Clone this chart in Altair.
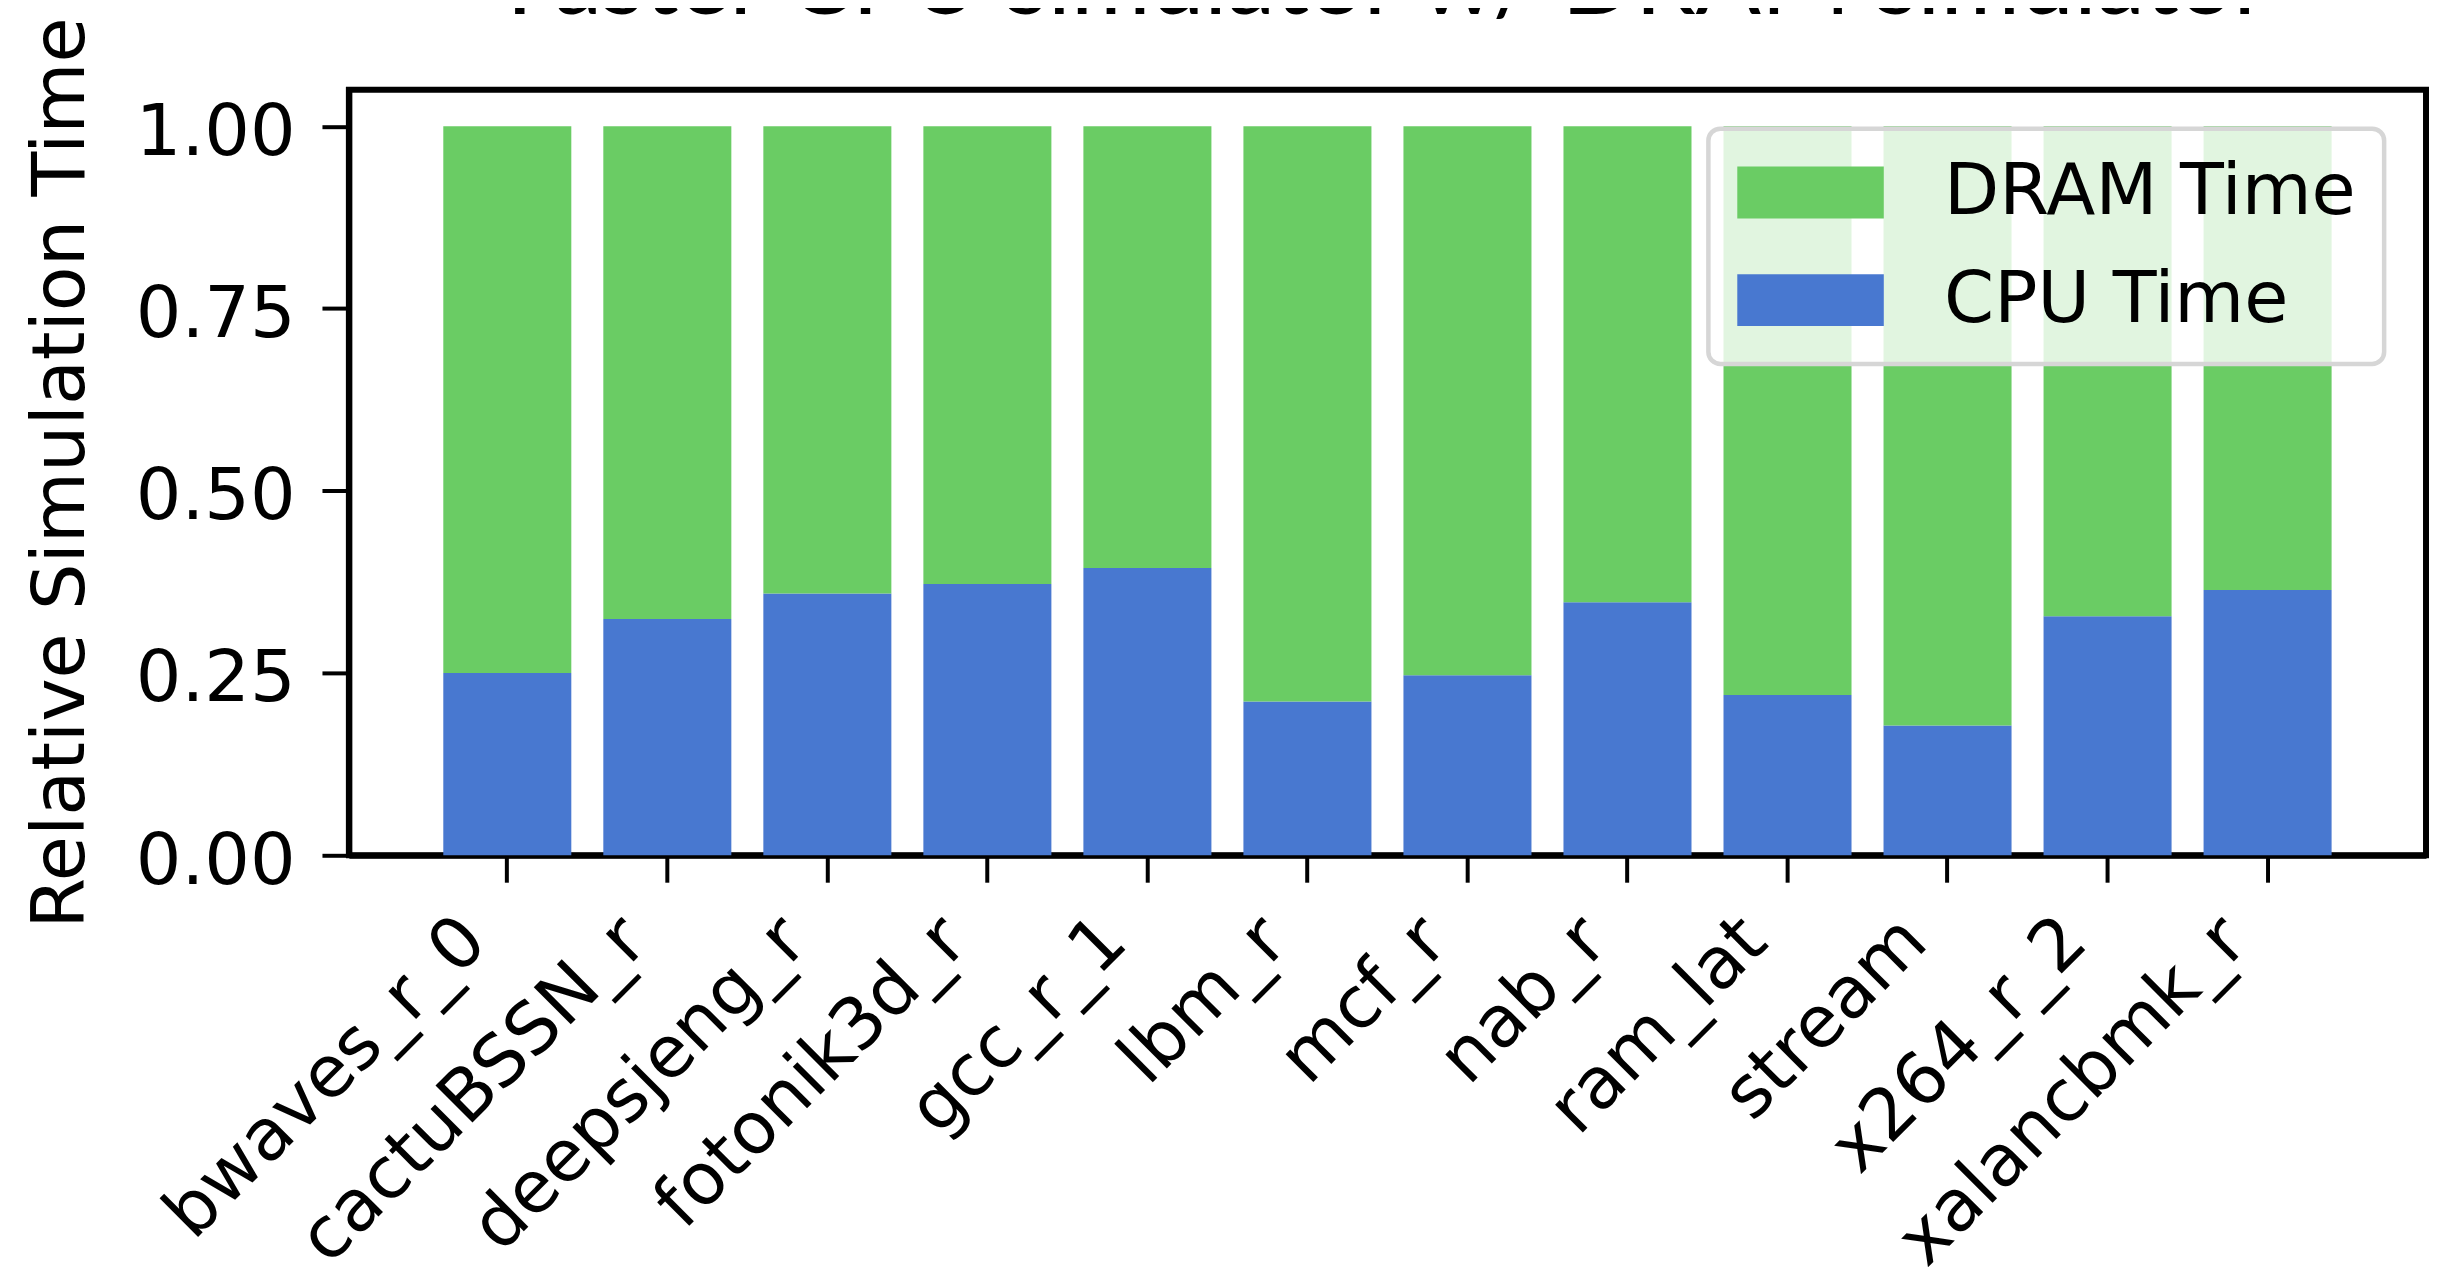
import altair as alt
import pandas as pd

# ---- data ----
benchmarks = ["bwaves_r_0", "cactuBSSN_r", "deepsjeng_r", "fotonik3d_r", "gcc_r_1",
              "lbm_r", "mcf_r", "nab_r", "ram_lat", "stream", "x264_r_2", "xalancbmk_r"]
cpu_time = [0.250, 0.324, 0.359, 0.372, 0.394, 0.211, 0.247, 0.347, 0.220, 0.178, 0.328, 0.364]
dram_time = [0.750, 0.676, 0.641, 0.628, 0.606, 0.789, 0.753, 0.653, 0.780, 0.822, 0.672, 0.636]
series_names = ["CPU Time", "DRAM Time"]
legend_order = ["DRAM Time", "CPU Time"]
series_colors = ["#6acc64", "#4878d0"]
y_ticks = [0.0, 0.25, 0.5, 0.75, 1.0]
title_text = "Faster CPU simulator w/ DRAM simulator"
y_title = "Relative Simulation Time"

rows = []
for i, b in enumerate(benchmarks):
    rows.append({"benchmark": b, "series": series_names[0], "value": cpu_time[i], "stack_order": 0})
    rows.append({"benchmark": b, "series": series_names[1], "value": dram_time[i], "stack_order": 1})
df = pd.DataFrame(rows)

FONT = "DejaVu Sans"

chart = alt.Chart(df).mark_bar().encode(
    x=alt.X("benchmark:N", sort=benchmarks, title=None,
            scale=alt.Scale(paddingInner=0.2, paddingOuter=0.59),
            axis=alt.Axis(labelAngle=315, labelAlign="right", labelBaseline="middle",
                          labelOffset=-33, labelPadding=47, tickSize=27,
                          labelFont=FONT, labelFontSize=72, labelLimit=1000,
                          labelOverlap=False, labelBound=False)),
    y=alt.Y("value:Q", stack="zero", title=y_title,
            scale=alt.Scale(domain=[0, 1.05], nice=False, zero=True),
            axis=alt.Axis(values=y_ticks, format=".2f", tickSize=27, labelPadding=27,
                          labelFont=FONT, labelFontSize=72, labelOverlap=False,
                          labelFlush=False, labelBaseline="line-top", labelLineHeight=15,
                          titleFont=FONT, titleFontSize=73.5, titleFontWeight="normal",
                          titlePadding=51, titleColor="black")),
    color=alt.Color("series:N",
                    scale=alt.Scale(domain=legend_order, range=series_colors),
                    legend=alt.Legend(title=None, orient="none", legendX=1364, legendY=39,
                                      symbolType="M-2.827,-1H2.827V1H-2.827Z", symbolSize=2704,
                                      symbolOffset=38.5,
                                      symbolStrokeWidth=0, symbolOpacity=1,
                                      labelFont=FONT, labelFontSize=72, labelColor="black",
                                      labelLimit=1000, labelOffset=98, rowPadding=36,
                                      padding=28, fillColor="rgba(255,255,255,0.8)",
                                      strokeColor="#d6d6d6", cornerRadius=12)),
    order=alt.Order("stack_order:Q"),
).properties(
    width=2084,
    height=768,
    autosize=alt.AutoSizeParams(type="none"),
    padding={"left": 342, "top": 80, "right": 4, "bottom": 418},
    title=alt.TitleParams(text=title_text, font="Lato", fontSize=97, fontWeight="normal",
                          color="black", anchor="middle", frame="group", orient="top",
                          baseline="alphabetic", offset=0, dy=94),
).configure_view(
    stroke="black", strokeWidth=6
).configure_axis(
    domainColor="black", domainWidth=6, tickColor="black", tickWidth=4,
    labelColor="black", grid=False
).configure_legend(
    strokeWidth=4.5
)

chart.save("out.html", embed_options={"renderer": "svg", "actions": False})
